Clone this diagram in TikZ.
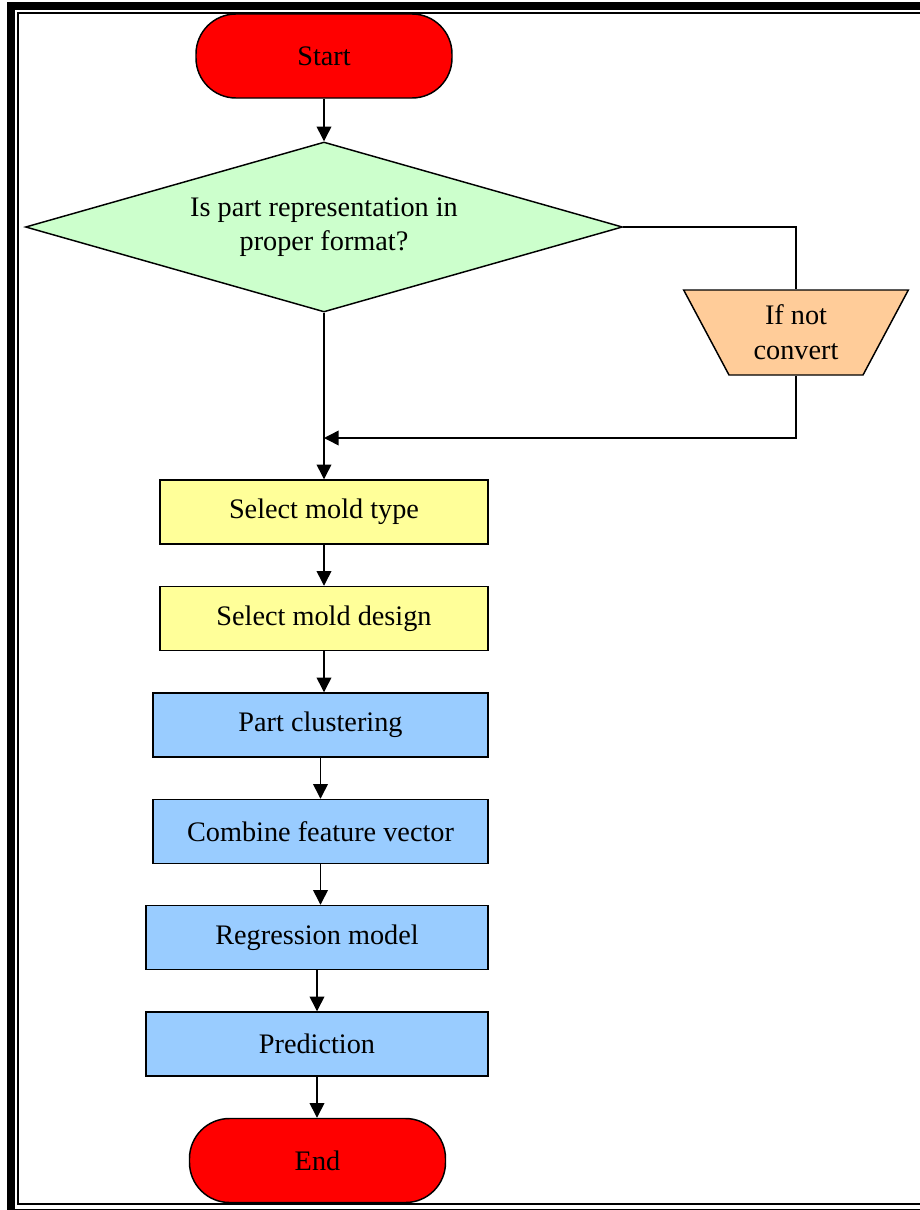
\documentclass[tikz,border=0pt]{standalone}
\usepackage{fontspec}
\setmainfont{Liberation Serif}
\usetikzlibrary{arrows.meta,shapes.geometric,calc}
\definecolor{termRed}{RGB}{255,0,0}
\definecolor{askGreen}{RGB}{204,255,204}
\definecolor{fixOrange}{RGB}{255,204,153}
\definecolor{moldYellow}{RGB}{255,255,153}
\definecolor{modelBlue}{RGB}{153,204,255}

\begin{document}
\begin{tikzpicture}[x=0.75pt,y=-0.75pt,font=\fontsize{21.2}{26}\selectfont,
 term/.style={draw,line width=1.1pt,fill=termRed,rounded corners=30pt,minimum width=192pt,minimum height=63pt,inner sep=0pt},
 box/.style={draw,line width=1.1pt,minimum height=48pt,inner sep=0pt,align=center},
 arr/.style={-{Triangle[length=11pt,width=11pt]},line width=1.1pt},
 line/.style={line width=1.1pt}]
\path[use as bounding box] (0,0) rectangle (920,1210);
% double frame
\draw[line width=6.5pt] (11,6) rectangle (945,1213);
\draw[line width=1.2pt] (18,13) rectangle (940,1204);
% terminals and steps
\node[term] (start) at (324,56) {Start};
\node[draw,line width=1.1pt,fill=askGreen,diamond,aspect=3.5,inner sep=0pt,
 minimum width=447.75pt,minimum height=127.5pt,align=center] (ask) at (324,227)
 {Is part representation in\\proper format?};
\node[draw,line width=1.1pt,fill=fixOrange,trapezium,shape border rotate=180,
 trapezium left angle=62.4,trapezium right angle=62.4,trapezium stretches=true,
 minimum width=168.75pt,minimum height=63.75pt,inner sep=0pt,align=center] (conv) at (796,332.5)
 {If not\\convert};
\node[box,fill=moldYellow,minimum width=246pt] (type) at (324,512) {Select mold type};
\node[box,fill=moldYellow,minimum width=246pt] (design) at (324,618.5) {Select mold design};
\node[box,fill=modelBlue,minimum width=251.25pt] (clust) at (320.5,725) {Part clustering};
\node[box,fill=modelBlue,minimum width=251.25pt] (comb) at (320.5,831.5) {Combine feature vector};
\node[box,fill=modelBlue,minimum width=256.5pt] (regr) at (317,937.5) {Regression model};
\node[box,fill=modelBlue,minimum width=256.5pt] (pred) at (317,1044) {Prediction};
\node[term] (end) at (317.5,1160.5) {End};
% connectors
\coordinate (join) at (324,438);
\draw[arr] (start.south -| ask.north) -- (ask.north);
\draw[line] (ask.east) -| (conv.north);
\draw[arr] (conv.south) |- (join);
\draw[arr] (ask.south) -- (type.north);
\draw[arr] (type.south) -- (design.north);
\draw[arr] (design.south) -- (design.south |- clust.north);
\draw[arr] (clust.south) -- (clust.south |- comb.north);
\draw[arr] (comb.south) -- (comb.south |- regr.north);
\draw[arr] (regr.south) -- (pred.north);
\draw[arr] (pred.south) -- (pred.south |- end.north);
\end{tikzpicture}
\end{document}
